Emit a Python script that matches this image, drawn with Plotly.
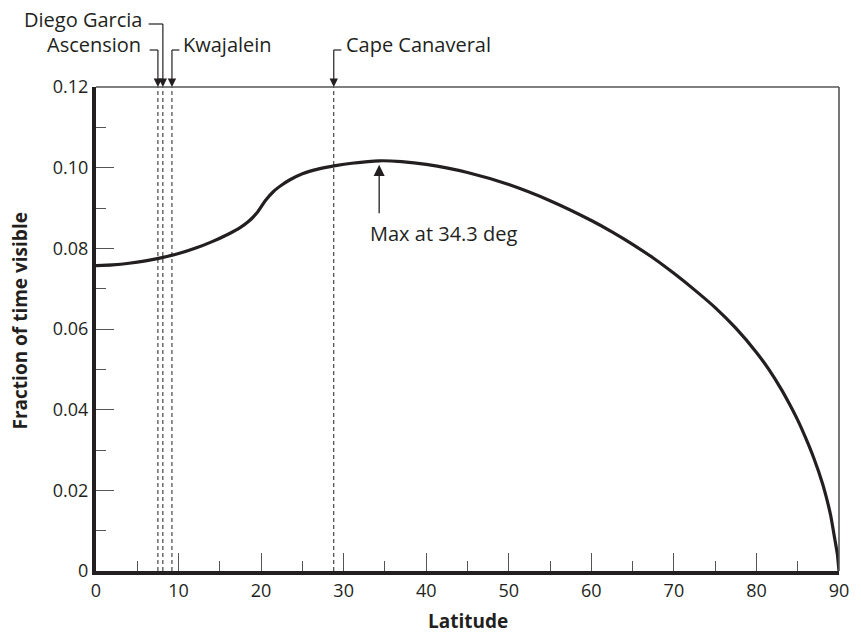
import plotly.graph_objects as go

# ---- data ----
latitude = [0, 2, 4, 6, 8, 10, 12, 14, 16, 17.5, 18.5, 19.5, 20.5, 21.5, 22.5, 23.5, 25,
            27, 29, 31, 34.3, 37, 40, 45, 50, 55, 60, 62.5, 65, 67.5, 70, 72.5, 75, 77.5,
            80, 81.5, 83, 84, 85, 86, 87, 88, 88.5, 89, 89.5, 89.8, 90]
fraction = [0.0757, 0.0759, 0.0763, 0.0769, 0.0777, 0.0787, 0.0800, 0.0816, 0.0835,
            0.0852, 0.0867, 0.0888, 0.0918, 0.0941, 0.0957, 0.0970, 0.0985, 0.0997,
            0.1005, 0.1011, 0.1017, 0.1015, 0.1008, 0.0988, 0.0958, 0.0918, 0.0869,
            0.0841, 0.0810, 0.0776, 0.0738, 0.0697, 0.0653, 0.0602, 0.0542, 0.0500,
            0.0451, 0.0414, 0.0374, 0.0328, 0.0277, 0.0217, 0.0180, 0.0137, 0.0078,
            0.0042, 0.0]

stations = ["Ascension", "Diego Garcia", "Kwajalein", "Cape Canaveral"]
station_lat = [7.5, 8.1, 9.2, 28.8]

max_lat = 34.3
max_label = "Max at 34.3 deg"

ytick_vals = [0, 0.02, 0.04, 0.06, 0.08, 0.10, 0.12]
ytick_text = ["0", "0.02", "0.04", "0.06", "0.08", "0.10", "0.12"]
xtick_vals = [0, 10, 20, 30, 40, 50, 60, 70, 80, 90]

INK = "#231f20"
GREY = "#555555"
FONT = "Open Sans"

L, R, T, B = 96, 17, 87, 66
W, H = 861, 637
PW, PH = W - L - R, H - T - B


def px_x(pix):
    """paper x from a pixel column"""
    return (pix - L) / PW


def px_y(pix):
    """paper y from a pixel row"""
    return (H - B - pix) / PH


fig = go.Figure()
fig.add_trace(go.Scatter(x=latitude, y=fraction, mode="lines",
                         line=dict(color=INK, width=3.2, shape="spline", smoothing=0.5),
                         hoverinfo="skip", showlegend=False))

shapes = []
annotations = []

# dashed station lines
for lat in station_lat:
    shapes.append(dict(type="line", xref="x", yref="paper", x0=lat, x1=lat, y0=0, y1=1,
                       line=dict(color=INK, width=1, dash="4px,3px")))

# frame: thin top & right lines
shapes.append(dict(type="line", xref="paper", yref="paper", x0=0, x1=1, y0=1, y1=1,
                   line=dict(color=GREY, width=1.6)))
shapes.append(dict(type="line", xref="paper", yref="paper", x0=1, x1=1, y0=0, y1=1,
                   line=dict(color=GREY, width=1.6)))

# call-outs: name, station latitude, leader row (px), leader far end (px), text x (px), anchor, text row (px)
callouts = [
    ("Ascension", station_lat[0], 50, 150, 143, "right", 45),
    ("Diego Garcia", station_lat[1], 24, 149, 144, "right", 20),
    ("Kwajalein", station_lat[2], 50, 180, 182, "left", 45),
    ("Cape Canaveral", station_lat[3], 50, 343, 346, "left", 45),
]
for name, lat, yl, xend, xtxt, anchor, ytxt in callouts:
    xs = px_x(L + lat * PW / 90.0)
    shapes.append(dict(type="line", xref="paper", yref="paper", x0=px_x(xend), x1=xs,
                       y0=px_y(yl), y1=px_y(yl), line=dict(color=INK, width=1.2)))
    shapes.append(dict(type="line", xref="paper", yref="paper", x0=xs, x1=xs,
                       y0=px_y(yl), y1=px_y(T - 7), line=dict(color=INK, width=1.2)))
    annotations.append(dict(x=lat, y=1.0, xref="x", yref="paper", text="", showarrow=True,
                            ax=0, ay=-9, arrowhead=2, arrowsize=1.4, arrowwidth=1.2,
                            arrowcolor=INK, standoff=0))
    annotations.append(dict(x=px_x(xtxt), y=px_y(ytxt), xref="paper", yref="paper", text=name,
                            showarrow=False, xanchor=anchor, yanchor="middle",
                            font=dict(family=FONT, size=20, color=INK)))

# max annotation
annotations.append(dict(x=max_lat, y=0.1007, xref="x", yref="y", text="", showarrow=True,
                        ax=0, ay=50, arrowhead=2, arrowsize=1.7, arrowwidth=1.3,
                        arrowcolor=INK, standoff=0))
annotations.append(dict(x=33.0, y=0.0836, xref="x", yref="y", text=max_label, showarrow=False,
                        xanchor="left", yanchor="middle",
                        font=dict(family=FONT, size=20, color=INK)))

# axis titles
annotations.append(dict(x=px_x(19), y=0.062, xref="paper", yref="y",
                        text="<b>Fraction of time visible</b>", textangle=-90, showarrow=False,
                        xanchor="center", yanchor="middle",
                        font=dict(family=FONT, size=19, color=INK)))
annotations.append(dict(x=0.5, y=px_y(621), xref="paper", yref="paper",
                        text="<b>Latitude</b>", showarrow=False,
                        xanchor="center", yanchor="middle",
                        font=dict(family=FONT, size=19, color=INK)))

fig.update_layout(
    width=W, height=H,
    margin=dict(l=L, r=R, t=T, b=B),
    paper_bgcolor="white", plot_bgcolor="white",
    font=dict(family=FONT, color=INK),
    shapes=shapes, annotations=annotations,
    showlegend=False,
)
fig.update_xaxes(range=[0, 90], tickvals=xtick_vals, ticks="inside", ticklen=18, tickwidth=1.4,
                 tickcolor=GREY, showgrid=False, zeroline=False,
                 showline=True, linewidth=4, linecolor=INK,
                 minor=dict(ticks="inside", ticklen=10, dtick=5, tickwidth=1.4, tickcolor=GREY,
                            showgrid=False),
                 tickfont=dict(family=FONT, size=18, color=INK))
fig.update_yaxes(range=[0, 0.12], tickvals=ytick_vals, ticktext=ytick_text, ticks="inside",
                 ticklen=18, tickwidth=1.4, tickcolor=GREY, showgrid=False, zeroline=False,
                 showline=True, linewidth=4, linecolor=INK,
                 minor=dict(ticks="inside", ticklen=10, dtick=0.01, tickwidth=1.4, tickcolor=GREY,
                            showgrid=False),
                 tickfont=dict(family=FONT, size=18, color=INK))

fig.write_html("out.html", config={"displayModeBar": False},
               post_script="document.body.style.margin='0';document.body.style.overflow='hidden';")
